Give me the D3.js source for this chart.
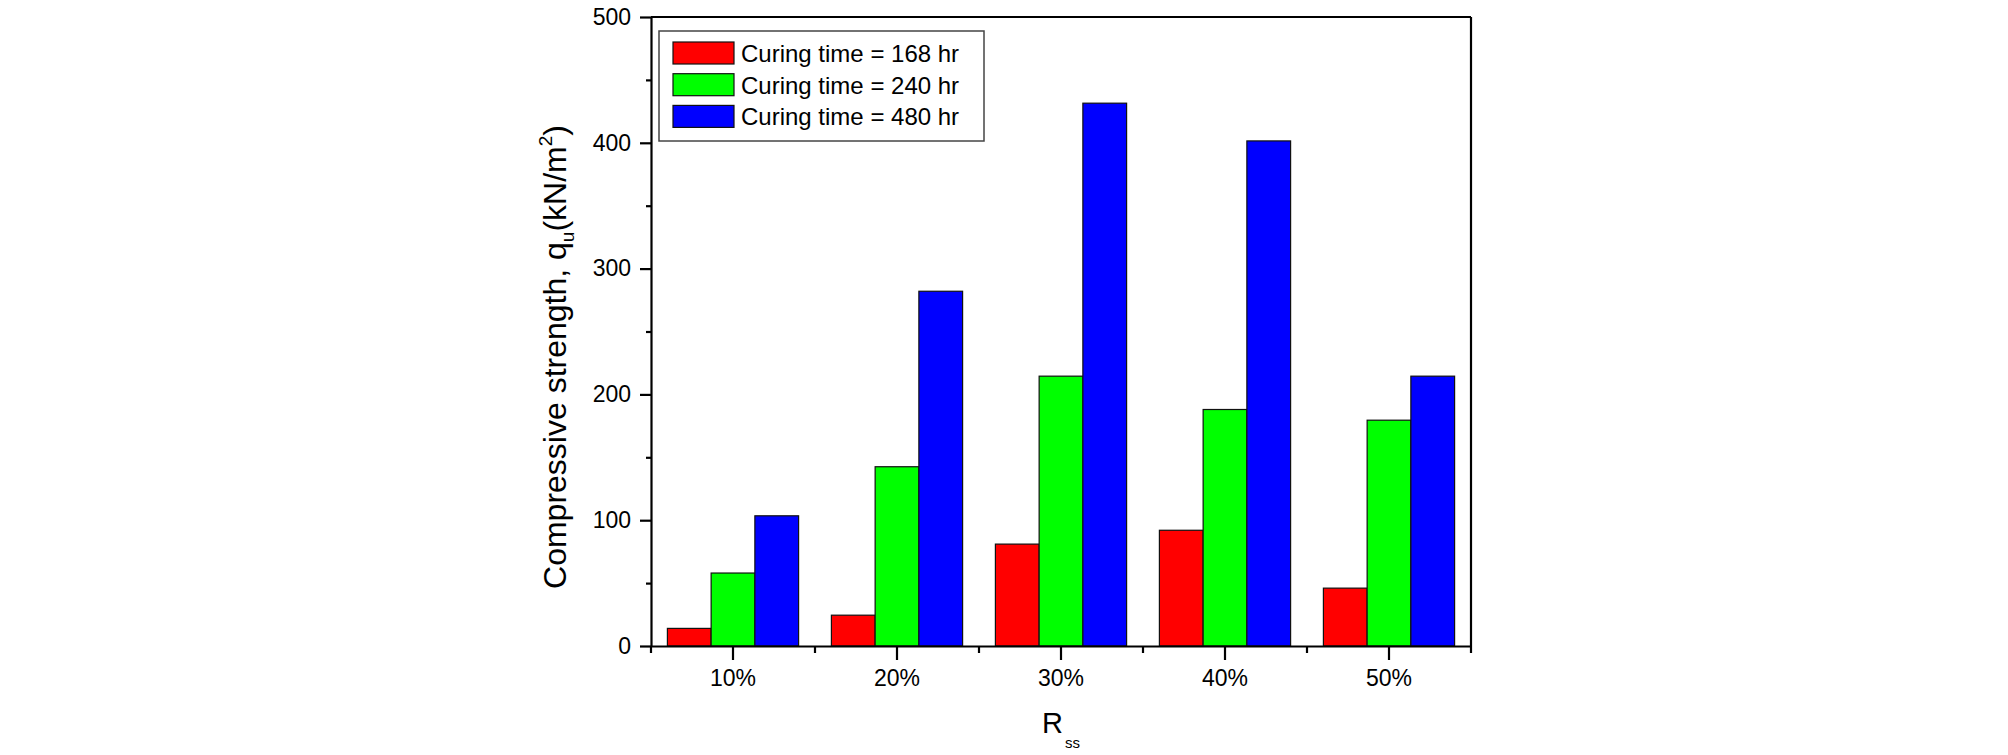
<!DOCTYPE html>
<html>
<head>
<meta charset="utf-8">
<script src="https://cdn.jsdelivr.net/npm/d3@7"></script>
<style>
  body { margin: 0; background: #fff; }
  text { font-family: Arial, "Liberation Sans", sans-serif; fill: #000; }
</style>
</head>
<body>
<div id="barchart"></div>
<script>
const categories = ["10%", "20%", "30%", "40%", "50%"];
const seriesNames = ["Curing time = 168 hr", "Curing time = 240 hr", "Curing time = 480 hr"];
const hr168 = [14, 24.5, 81, 92, 46];
const hr240 = [58, 142.5, 214.5, 188, 179.5];
const hr480 = [103.5, 282, 431.5, 401.5, 214.5];
const seriesColors = ["#ff0000", "#00ff00", "#0000ff"];
const yMajorTicks = [0, 100, 200, 300, 400, 500];
const yMinorTicks = [50, 150, 250, 350, 450];

const margin = { top: 17, right: 537, bottom: 109, left: 651 },
    width = 2008 - margin.left - margin.right,
    height = 755 - margin.top - margin.bottom;

const root = d3.select("#barchart")
    .append("svg")
    .attr("width", 2008)
    .attr("height", 755);

const svg = root.append("g")
    .attr("transform", `translate(${margin.left},${margin.top})`);

const allSeries = [hr168, hr240, hr480];
const data = categories.map((c, i) => ({ cat: c, values: allSeries.map((s, j) => ({ j: j, v: s[i] })) }));

const x = d3.scaleBand()
    .domain(categories)
    .range([0, width])
    .paddingInner(0.2)
    .paddingOuter(0.1);

const xSub = d3.scaleBand()
    .domain(d3.range(seriesNames.length))
    .range([0, x.bandwidth()]);

const y = d3.scaleLinear()
    .domain([0, 500])
    .range([height, 0]);

// bars
svg.selectAll(".group")
    .data(data)
    .join("g")
    .attr("transform", d => `translate(${x(d.cat)},0)`)
    .selectAll("rect")
    .data(d => d.values)
    .join("rect")
    .attr("x", d => xSub(d.j))
    .attr("width", xSub.bandwidth())
    .attr("y", d => y(d.v))
    .attr("height", d => height - y(d.v))
    .attr("fill", d => seriesColors[d.j])
    .attr("stroke", "#111")
    .attr("stroke-width", 1.2);

// frame top / right
svg.append("line")
    .attr("x1", 0).attr("x2", width).attr("y1", 0).attr("y2", 0)
    .attr("stroke", "#000").attr("stroke-width", 2.2);
svg.append("line")
    .attr("x1", width).attr("x2", width).attr("y1", 0).attr("y2", height)
    .attr("stroke", "#000").attr("stroke-width", 2.2);

// y axis
svg.append("g")
    .call(d3.axisLeft(y).tickValues(yMajorTicks).tickSize(11).tickSizeOuter(0).tickPadding(9));
svg.append("g")
    .call(d3.axisLeft(y).tickValues(yMinorTicks).tickSize(5).tickSizeOuter(0).tickFormat(""))
    .select(".domain").remove();

// x axis
svg.append("g")
    .attr("transform", `translate(0,${height})`)
    .call(d3.axisBottom(x).tickSize(14).tickSizeOuter(0).tickPadding(10));

// minor ticks at group boundaries
const boundaries = d3.range(categories.length + 1).map(i => i * x.step());
svg.append("g")
    .attr("transform", `translate(0,${height})`)
    .selectAll("line")
    .data(boundaries)
    .join("line")
    .attr("x1", d => d).attr("x2", d => d)
    .attr("y1", 0).attr("y2", 7)
    .attr("stroke", "#000").attr("stroke-width", 2.2);

svg.selectAll(".domain, .tick line")
    .attr("stroke", "#000")
    .attr("stroke-width", 2.2);
svg.selectAll(".tick text")
    .style("font-family", "Arial, 'Liberation Sans', sans-serif")
    .style("font-size", "23px")
    .attr("fill", "#000");

// axis titles
const yTitle = root.append("text")
    .attr("transform", "translate(566,357) rotate(-90)")
    .attr("text-anchor", "middle")
    .style("font-size", "32px");
yTitle.append("tspan").text("Compressive strength, q");
yTitle.append("tspan").text("u").style("font-size", "19px").attr("dy", 8);
yTitle.append("tspan").text("(kN/m").style("font-size", "32px").attr("dy", -8);
yTitle.append("tspan").text("2").style("font-size", "19px").attr("dy", -14);
yTitle.append("tspan").text(")").style("font-size", "32px").attr("dy", 14);

const xTitle = root.append("text")
    .attr("x", margin.left + width / 2)
    .attr("y", 733)
    .attr("text-anchor", "middle")
    .style("font-size", "29px");
xTitle.append("tspan").text("R");
xTitle.append("tspan").text("ss").style("font-size", "15px").attr("dy", 15).attr("dx", 2);

// legend
const legend = root.append("g")
    .attr("transform", "translate(659,31)");
legend.append("rect")
    .attr("width", 325).attr("height", 110)
    .attr("fill", "#fff")
    .attr("stroke", "#444").attr("stroke-width", 1.5);
const items = legend.selectAll(".item")
    .data(seriesNames)
    .join("g")
    .attr("transform", (d, i) => `translate(14,${11 + i * 31.7})`);
items.append("rect")
    .attr("width", 61).attr("height", 22)
    .attr("fill", (d, i) => seriesColors[i])
    .attr("stroke", "#111").attr("stroke-width", 1.2);
items.append("text")
    .attr("x", 68).attr("y", 20)
    .style("font-size", "24px")
    .text(d => d);
</script>
</body>
</html>
